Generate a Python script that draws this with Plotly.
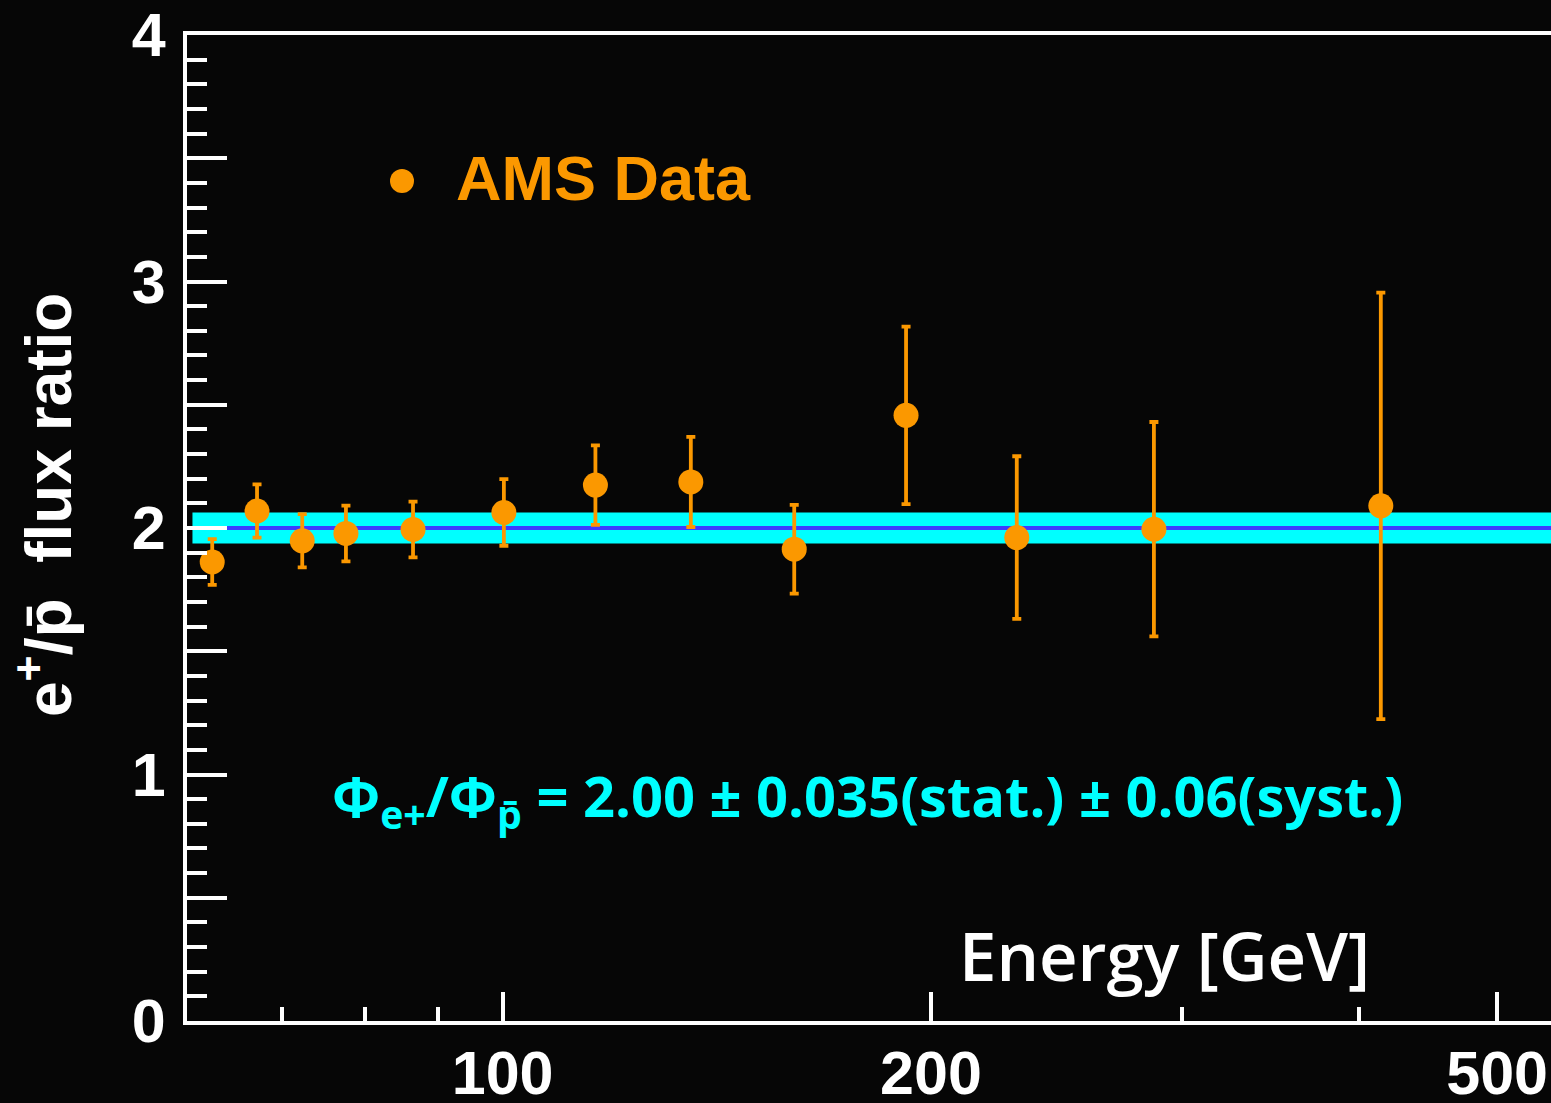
import math
import plotly.graph_objects as go

# AMS positron / antiproton flux ratio vs energy
energy_gev = [62.5, 67.2, 72.3, 77.6, 86.5, 100.2, 116.2, 135.6, 160.3, 192.1, 229.8, 286.9, 414.2]
flux_ratio = [1.862, 2.069, 1.948, 1.978, 1.994, 2.063, 2.174, 2.187, 1.914, 2.457, 1.961, 1.995, 2.090]
ratio_err = [0.093, 0.108, 0.108, 0.113, 0.113, 0.135, 0.161, 0.183, 0.180, 0.360, 0.330, 0.435, 0.865]

# constant fit and its uncertainty band
fit_value = 2.00
band_low = 1.937
band_high = 2.063

x_tick_vals = [100, 200, 500]
x_tick_text = ["100", "200", "500"]
x_minor_vals = [70, 80, 90, 300, 400]
y_tick_vals = [0, 0.5, 1, 1.5, 2, 2.5, 3, 3.5, 4]
y_tick_text = ["0", "", "1", "", "2", "", "3", "", "4"]
y_minor_vals = [0.1, 0.2, 0.3, 0.4, 0.6, 0.7, 0.8, 0.9,
                1.1, 1.2, 1.3, 1.4, 1.6, 1.7, 1.8, 1.9,
                2.1, 2.2, 2.3, 2.4, 2.6, 2.7, 2.8, 2.9,
                3.1, 3.2, 3.3, 3.4, 3.6, 3.7, 3.8, 3.9]

ORANGE = "#fb9800"
CYAN = "#00ffff"
BLUE = "#3c3cff"
BG = "#060606"
WHITE = "#ffffff"

fig = go.Figure()

fig.add_trace(go.Scatter(
    x=energy_gev, y=flux_ratio, mode="markers",
    marker=dict(size=25, color=ORANGE, line=dict(width=0)),
    error_y=dict(type="data", array=ratio_err, color=ORANGE, thickness=3.8, width=4.5),
    showlegend=False, cliponaxis=False,
))

# fit band and central value
fig.add_shape(type="rect", xref="paper", yref="y", x0=0.004, x1=1,
              y0=band_low, y1=band_high, fillcolor=CYAN, line=dict(width=0), layer="below")
fig.add_shape(type="line", xref="paper", yref="y", x0=0, x1=1,
              y0=fit_value, y1=fit_value, line=dict(color=BLUE, width=4), layer="below")

# legend glyph
fig.add_shape(type="circle", xref="paper", yref="paper",
              x0=(390 - 187) / 1364, x1=(414 - 187) / 1364,
              y0=(1021 - 193) / 986, y1=(1021 - 169) / 986,
              fillcolor=ORANGE, line=dict(width=0))

fig.add_annotation(
    text="AMS Data", xref="paper", yref="paper",
    x=(454 - 187) / 1364, y=(1021 - 178) / 986, xanchor="left", yanchor="middle",
    showarrow=False, font=dict(family="Liberation Sans", size=63, color=ORANGE, weight="bold"),
)

fig.add_annotation(
    text="Φ<sub>e+</sub>/Φ<sub>p\u0304</sub> = 2.00 ± 0.035(stat.) ± 0.06(syst.)",
    xref="paper", yref="paper",
    x=(330 - 187) / 1364, y=(1021 - 798) / 986, xanchor="left", yanchor="middle",
    showarrow=False, font=dict(family="Open Sans", size=56, color=CYAN, weight=700),
)

fig.add_annotation(
    text="Energy [GeV]", xref="paper", yref="paper",
    x=(1372 - 187) / 1364, y=(1021 - 955) / 986, xanchor="right", yanchor="middle",
    showarrow=False, font=dict(family="Open Sans", size=67, color=WHITE, weight=600),
)

fig.add_annotation(
    text="e<sup>+</sup>/p\u0304  flux ratio", xref="paper", yref="paper",
    x=(44 - 187) / 1364, y=(1021 - 505) / 986, xanchor="center", yanchor="middle",
    textangle=-90, showarrow=False,
    font=dict(family="Liberation Sans", size=64, color=WHITE, weight="bold"),
)

tick_font = dict(family="Liberation Sans", size=61, color=WHITE, weight="bold")

fig.update_layout(
    width=1551, height=1103,
    margin=dict(l=187, r=0, t=35, b=82),
    paper_bgcolor=BG, plot_bgcolor=BG,
    xaxis=dict(
        type="log", range=[math.log10(60), 2.73682], automargin=False,
        showline=True, linecolor=WHITE, linewidth=4, mirror=True,
        ticks="inside", tickvals=x_tick_vals, ticktext=x_tick_text,
        ticklen=29, tickwidth=3.5, tickcolor=WHITE, tickfont=tick_font,
        ticklabelstandoff=-4,
        showgrid=False, zeroline=False,
        minor=dict(tickmode="array", tickvals=x_minor_vals, ticks="inside",
                   ticklen=14, tickwidth=3.5, tickcolor=WHITE, showgrid=False),
    ),
    yaxis=dict(
        range=[0, 4], automargin=False,
        showline=True, linecolor=WHITE, linewidth=4, mirror=False,
        ticks="inside", tickvals=y_tick_vals, ticktext=y_tick_text,
        ticklen=40, tickwidth=3.5, tickcolor=WHITE, tickfont=tick_font,
        ticklabelstandoff=5,
        showgrid=False, zeroline=False,
        minor=dict(tickmode="array", tickvals=y_minor_vals, ticks="inside",
                   ticklen=20, tickwidth=3.5, tickcolor=WHITE, showgrid=False),
    ),
)

fig.write_html("out.html")
